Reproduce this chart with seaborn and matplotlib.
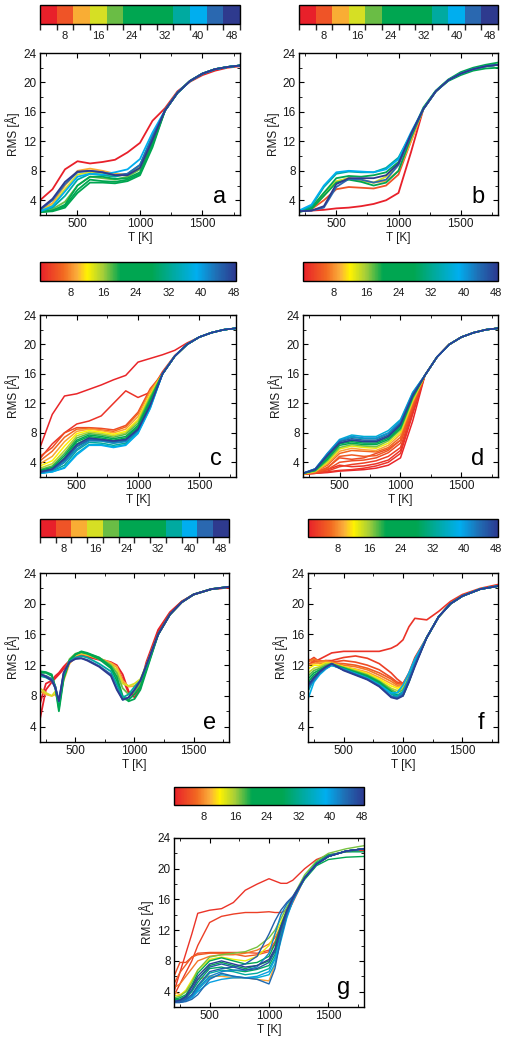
import numpy as np
import pandas as pd
import matplotlib
matplotlib.use("Agg")
import matplotlib.pyplot as plt
import seaborn as sns
from matplotlib.colors import ListedColormap, BoundaryNorm, LinearSegmentedColormap, Normalize
from matplotlib.cm import ScalarMappable
from matplotlib.ticker import MultipleLocator

sns.set_theme(style="ticks")
plt.rcParams['font.family'] = ['Liberation Sans', 'DejaVu Sans']

# ---------------- data ----------------
cbar_ticks = [8, 16, 24, 32, 40, 48]
x_ticks = [500, 1000, 1500]
y_ticks = [4, 8, 12, 16, 20, 24]

# panel a
a_T = [200, 300, 400, 500, 600, 700, 800, 900, 1000, 1100, 1200, 1300, 1400, 1500, 1600, 1700, 1800]
a_tail = [16.2, 18.6, 20.2, 21.2, 21.8, 22.1, 22.3]
a_levels = [4, 10, 14, 20, 24, 28, 30, 34, 38, 44, 48]
a_rms = [
    [4.0, 5.5, 8.2, 9.3, 9.0, 9.2, 9.5, 10.5, 11.8, 14.8, 16.5, 18.8, 20.1, 21.0, 21.6, 22.0, 22.2],
    [2.6, 3.6, 6.0, 8.0, 8.3, 8.0, 7.6, 7.5, 8.6, 12.5],
    [2.6, 3.3, 5.5, 7.5, 7.8, 7.6, 7.3, 7.5, 8.4, 12.0],
    [2.5, 2.8, 3.8, 6.0, 7.2, 7.0, 6.8, 7.2, 8.2, 12.0],
    [2.4, 2.6, 3.2, 5.4, 6.8, 6.6, 6.5, 6.8, 7.6, 11.5],
    [2.4, 2.5, 3.0, 5.0, 6.4, 6.4, 6.3, 6.6, 7.4, 11.2],
    [2.4, 2.6, 3.4, 6.0, 7.2, 7.2, 6.9, 7.0, 7.8, 11.8],
    [2.5, 3.0, 4.6, 6.8, 7.6, 7.4, 7.2, 7.6, 8.8, 12.8],
    [2.5, 3.2, 5.2, 7.2, 7.6, 7.5, 7.8, 8.2, 9.6, 13.2],
    [2.7, 4.0, 6.2, 7.8, 8.0, 7.8, 7.4, 7.6, 8.8, 12.6],
    [2.8, 4.2, 6.5, 7.9, 8.0, 7.8, 7.4, 7.4, 8.4, 12.2],
]

# panel b
b_T = [200, 300, 400, 500, 600, 700, 800, 900, 1000, 1100, 1200, 1300, 1400, 1500, 1600, 1700, 1800]
b_tail = [16.4, 18.8, 20.3, 21.2, 21.8, 22.2, 22.4]
b_levels = [4, 6, 10, 14, 24, 28, 34, 38, 44, 48]
b_rms = [
    [2.5, 2.6, 2.7, 2.9, 3.0, 3.2, 3.5, 4.0, 5.0, 10.5],
    [2.5, 2.8, 4.0, 5.5, 5.8, 5.7, 5.6, 6.0, 7.5, 12.0],
    [2.5, 2.8, 4.6, 6.5, 7.0, 6.8, 6.4, 6.6, 8.0, 12.0],
    [2.5, 3.0, 5.0, 6.6, 7.0, 6.6, 6.4, 7.2, 8.8, 12.5],
    [2.4, 2.8, 4.6, 6.4, 6.8, 6.5, 6.0, 6.4, 8.0, 12.5, 16.4, 18.8, 20.2, 21.0, 21.6, 21.9, 22.0],
    [2.5, 3.0, 5.0, 7.0, 7.3, 7.2, 7.4, 7.8, 9.2, 12.8, 16.6, 18.9, 20.4, 21.4, 22.0, 22.4, 22.7],
    [2.5, 3.2, 5.8, 7.6, 7.9, 7.8, 7.8, 8.4, 9.8, 13.0],
    [2.6, 3.4, 6.0, 7.8, 8.0, 7.9, 7.8, 8.2, 9.6, 13.2],
    [2.5, 2.6, 3.0, 5.8, 6.9, 6.8, 6.4, 6.8, 8.8, 12.8],
    [2.5, 2.6, 3.2, 6.2, 7.0, 7.0, 7.0, 7.4, 9.0, 13.0],
]

# panel c
c_T = [200, 300, 400, 500, 600, 700, 800, 900, 1000, 1100, 1200, 1300, 1400, 1500, 1600, 1700, 1800]
c_tail = [16.0, 18.4, 20.0, 21.0, 21.6, 22.0, 22.2]
c_levels = [1, 2, 4, 6, 9, 12, 15, 18, 21, 24, 27, 30, 33, 36, 39, 42, 45, 48]
c_rms = [
    [6.0, 10.5, 13.0, 13.3, 13.9, 14.5, 15.2, 15.8, 17.6, 18.1, 18.6, 19.2, 20.2, 21.0, 21.6, 22.0, 22.2],
    [4.5, 6.5, 8.0, 9.2, 9.6, 10.3, 12.0, 13.7, 12.8, 13.5, 16.3, 18.5, 20.0, 21.0, 21.6, 22.0, 22.2],
    [4.8, 6.0, 8.0, 8.7, 8.7, 8.6, 8.4, 9.0, 10.8, 14.0],
    [4.2, 5.5, 7.4, 8.5, 8.6, 8.4, 8.2, 8.8, 10.6, 13.8],
    [3.8, 4.8, 6.8, 8.2, 8.5, 8.3, 8.0, 8.5, 10.2, 13.6],
    [3.5, 4.2, 6.2, 7.9, 8.3, 8.1, 7.8, 8.2, 9.8, 13.2],
    [3.2, 3.8, 5.6, 7.6, 8.1, 7.9, 7.6, 8.0, 9.6, 13.0],
    [3.0, 3.5, 5.2, 7.3, 7.9, 7.7, 7.4, 7.8, 9.3, 12.8],
    [2.9, 3.3, 4.9, 7.0, 7.7, 7.5, 7.2, 7.5, 9.0, 12.5],
    [2.8, 3.1, 4.6, 6.8, 7.5, 7.3, 7.0, 7.3, 8.8, 12.2],
    [2.7, 3.0, 4.3, 6.5, 7.3, 7.1, 6.8, 7.1, 8.6, 12.0],
    [2.6, 2.9, 4.0, 6.1, 7.0, 6.9, 6.6, 6.9, 8.4, 11.8],
    [2.5, 2.8, 3.6, 5.6, 6.7, 6.6, 6.3, 6.6, 8.2, 11.6],
    [2.5, 2.7, 3.3, 5.2, 6.4, 6.4, 6.1, 6.4, 8.0, 11.4],
    [2.5, 2.7, 3.2, 5.0, 6.3, 6.3, 6.0, 6.3, 7.9, 11.3],
    [2.6, 2.9, 4.0, 5.8, 6.9, 6.9, 6.6, 6.8, 8.3, 11.6],
    [2.6, 3.0, 4.3, 6.2, 7.1, 7.0, 6.8, 7.0, 8.4, 11.7],
    [2.7, 3.1, 4.5, 6.4, 7.3, 7.1, 6.9, 7.1, 8.5, 11.8],
]

# panel d
d_T = [200, 300, 400, 500, 600, 700, 800, 900, 1000, 1100, 1200, 1300, 1400, 1500, 1600, 1700, 1800]
d_tail = [15.8, 18.3, 20.0, 21.0, 21.6, 22.0, 22.2]
d_levels = [1, 2, 2, 3, 4, 4, 5, 6, 9, 13, 17, 21, 25, 29, 33, 37, 41, 45, 48]
d_rms = [
    [2.4, 2.5, 2.6, 2.8, 2.9, 3.0, 3.2, 3.6, 4.6, 9.6],
    [2.4, 2.5, 2.7, 2.9, 3.0, 3.2, 3.5, 4.0, 5.2, 10.5],
    [2.4, 2.6, 3.0, 3.6, 3.4, 3.5, 3.8, 4.3, 5.6, 10.8],
    [2.4, 2.5, 2.8, 3.4, 3.7, 3.9, 4.2, 4.8, 6.0, 11.2],
    [2.4, 2.6, 3.0, 4.0, 4.2, 4.3, 4.6, 5.3, 6.6, 11.5],
    [2.4, 2.6, 3.3, 4.6, 4.4, 4.6, 5.2, 5.8, 7.0, 11.8],
    [2.4, 2.6, 3.2, 4.8, 5.0, 4.8, 4.9, 5.6, 7.0, 11.8],
    [2.4, 2.7, 3.6, 5.2, 5.6, 5.5, 5.4, 6.0, 7.4, 12.0],
    [2.4, 2.7, 3.8, 5.5, 5.9, 5.7, 5.6, 6.3, 7.8, 12.2],
    [2.4, 2.8, 4.0, 5.8, 6.2, 6.0, 5.9, 6.6, 8.1, 12.4],
    [2.5, 2.8, 4.2, 6.0, 6.4, 6.2, 6.1, 6.9, 8.4, 12.6],
    [2.5, 2.9, 4.4, 6.3, 6.6, 6.4, 6.4, 7.1, 8.6, 12.8],
    [2.5, 2.9, 4.6, 6.5, 6.8, 6.6, 6.6, 7.3, 8.8, 13.0],
    [2.5, 3.0, 4.8, 6.6, 7.0, 6.8, 6.8, 7.5, 9.0, 13.1],
    [2.5, 3.0, 5.0, 6.9, 7.4, 7.2, 7.2, 7.9, 9.4, 13.3],
    [2.5, 3.1, 5.2, 7.1, 7.7, 7.5, 7.5, 8.3, 9.8, 13.5],
    [2.5, 3.1, 5.2, 7.0, 7.5, 7.3, 7.3, 8.0, 9.6, 13.4],
    [2.5, 3.1, 5.0, 6.8, 7.2, 7.0, 7.0, 7.7, 9.3, 13.2],
    [2.5, 3.0, 4.9, 6.6, 7.0, 6.8, 6.8, 7.5, 9.1, 13.0],
]

# panel e
e_T = [200, 250, 300, 330, 360, 400, 450, 500, 550, 600, 700, 800, 850, 900, 950, 1000,
       1050, 1100, 1200, 1300, 1400, 1500, 1650, 1800]
e_tail = [16.0, 18.6, 20.2, 21.2, 21.9, 22.2]
e_levels = [3, 5, 10, 14, 20, 26, 30, 36, 44, 48]
e_rms = [
    [5.0, 8.8, 9.8, 10.3, 10.8, 11.5, 12.3, 13.0, 13.2, 13.1, 12.8, 12.4, 12.0, 10.8, 8.6, 7.8,
     9.0, 12.0, 16.4, 18.8, 20.3, 21.2, 21.9, 22.1],
    [7.0, 9.6, 10.0, 10.6, 11.0, 11.8, 12.6, 13.1, 13.3, 13.1, 12.7, 12.2, 11.8, 10.2, 8.4, 8.2,
     9.4, 12.4, 16.6, 18.9, 20.3, 21.2, 21.9, 22.1],
    [8.6, 8.2, 8.0, 8.2, 7.4, 10.0, 12.2, 13.2, 13.5, 13.3, 12.9, 12.3, 11.8, 10.0, 9.2, 9.3, 10.0, 12.0],
    [9.0, 8.4, 8.0, 8.6, 7.2, 10.5, 12.5, 13.4, 13.6, 13.4, 12.8, 12.1, 11.4, 9.6, 9.3, 9.6, 10.2, 12.0],
    [10.8, 10.6, 10.2, 9.2, 6.8, 10.6, 12.8, 13.5, 13.7, 13.5, 13.0, 12.0, 11.0, 9.0, 8.2, 8.5, 9.6, 11.6],
    [11.2, 11.1, 10.8, 9.0, 6.0, 10.2, 12.6, 13.4, 13.8, 13.6, 13.0, 11.8, 10.5, 8.0, 7.3, 7.6, 8.8, 11.2],
    [11.0, 11.0, 10.6, 9.2, 6.4, 10.4, 12.6, 13.4, 13.7, 13.5, 12.8, 11.6, 10.0, 7.6, 7.5, 8.2, 9.2, 11.4],
    [10.6, 10.4, 10.0, 9.0, 7.2, 10.8, 12.5, 13.0, 13.2, 13.0, 12.2, 11.2, 9.5, 7.8, 8.2, 9.2, 10.0, 11.8],
    [10.8, 10.6, 10.2, 9.2, 7.4, 11.0, 12.4, 12.9, 12.9, 12.7, 11.9, 10.8, 9.0, 7.5, 7.8, 8.8, 10.0, 12.0],
    [10.9, 10.5, 10.0, 9.0, 7.3, 11.0, 12.4, 12.8, 12.9, 12.6, 11.8, 10.6, 8.8, 7.5, 7.8, 8.8, 10.0, 12.0],
]

# panel f
f_T = [200, 250, 300, 350, 400, 500, 600, 700, 800, 900, 950, 1000, 1050, 1100,
       1200, 1300, 1400, 1500, 1650, 1800]
f_tail = [15.6, 18.3, 20.0, 21.0, 21.9, 22.3]
f_levels = [2, 3, 4, 5, 7, 9, 12, 15, 18, 22, 26, 30, 34, 38, 42, 45, 48]
f_rms = [
    [12.0, 12.4, 12.8, 13.2, 13.6, 13.8, 13.8, 13.8, 13.8, 14.2, 14.6, 15.3, 17.0, 18.1,
     17.9, 19.0, 20.3, 21.2, 22.0, 22.5],
    [12.5, 13.0, 12.4, 12.6, 12.6, 13.0, 13.2, 12.9, 12.2, 11.0, 10.2, 9.6, 11.0, 13.0],
    [12.0, 12.6, 12.2, 12.4, 12.4, 12.6, 12.4, 12.0, 11.4, 10.4, 9.8, 9.6, 10.8, 12.8],
    [12.8, 12.4, 12.6, 12.5, 12.3, 12.2, 12.0, 11.6, 11.0, 10.2, 9.6, 9.5, 10.6, 12.6],
    [12.4, 12.8, 12.5, 12.6, 12.4, 12.0, 11.8, 11.4, 10.7, 9.9, 9.4, 9.4, 10.5, 12.5],
    [12.0, 12.2, 12.3, 12.4, 12.3, 11.8, 11.5, 11.1, 10.4, 9.6, 9.2, 9.3, 10.4, 12.4],
    [11.5, 12.0, 12.0, 12.3, 12.2, 11.8, 11.4, 10.9, 10.2, 9.3, 9.0, 9.2, 10.3, 12.4],
    [11.0, 11.6, 11.8, 12.2, 12.2, 11.7, 11.3, 10.8, 10.0, 9.0, 8.7, 9.0, 10.2, 12.3],
    [10.6, 11.3, 11.6, 12.0, 12.2, 11.7, 11.2, 10.7, 9.9, 8.8, 8.4, 8.8, 10.1, 12.2],
    [10.2, 11.0, 11.4, 11.8, 12.1, 11.6, 11.1, 10.6, 9.8, 8.6, 8.1, 8.4, 10.0, 12.2],
    [9.8, 10.7, 11.2, 11.7, 12.0, 11.6, 11.0, 10.5, 9.7, 8.4, 7.9, 8.2, 9.9, 12.0],
    [9.4, 10.4, 11.1, 11.6, 12.0, 11.5, 11.0, 10.4, 9.6, 8.3, 7.8, 8.0, 9.8, 12.0],
    [8.6, 10.2, 11.0, 11.6, 12.0, 11.5, 10.9, 10.3, 9.5, 8.3, 8.0, 8.6, 10.4, 12.4],
    [7.6, 9.8, 10.8, 11.5, 12.0, 11.4, 10.9, 10.3, 9.4, 8.4, 8.4, 9.4, 11.0, 12.8],
    [9.0, 10.0, 11.0, 11.6, 12.1, 11.4, 10.8, 10.2, 9.3, 8.0, 7.8, 8.4, 10.2, 12.2],
    [9.2, 10.2, 11.1, 11.7, 12.2, 11.4, 10.8, 10.2, 9.3, 7.9, 7.7, 8.1, 10.0, 12.0],
    [9.4, 10.4, 11.2, 11.8, 12.2, 11.3, 10.7, 10.1, 9.2, 7.8, 7.6, 8.0, 9.8, 11.8],
]

# panel g
g_T = [200, 250, 300, 350, 400, 500, 600, 700, 800, 900, 1000, 1050, 1100, 1150, 1200,
       1300, 1400, 1500, 1650, 1800]
g_tail = [18.8, 20.6, 21.6, 22.3, 22.6]
g_levels = [2, 3, 4, 5, 7, 9, 13, 17, 21, 25, 29, 33, 37, 40, 42, 44, 45, 46, 48]
g_rms = [
    [4.0, 6.5, 9.0, 11.5, 14.2, 14.6, 14.8, 15.6, 17.2, 18.0, 18.7, 18.4, 18.1, 18.1, 18.5,
     20.0, 21.2, 21.8, 22.2, 22.4],
    [3.5, 5.0, 6.5, 8.0, 10.0, 13.0, 13.8, 14.1, 14.3, 14.3, 14.4, 14.3, 14.3, 14.6, 16.0,
     18.8, 20.6, 21.6, 22.3, 22.6],
    [6.0, 7.8, 7.8, 8.5, 9.0, 9.1, 9.1, 9.1, 9.1, 9.0, 9.4, 10.5, 12.5, 14.0, 15.6],
    [5.0, 6.5, 7.5, 8.5, 8.8, 9.0, 9.0, 8.9, 8.6, 8.8, 9.2, 10.2, 12.0, 14.0, 15.8],
    [4.5, 5.0, 6.0, 7.0, 8.0, 8.6, 8.8, 8.8, 9.0, 9.4, 10.2, 11.0, 12.5, 14.2, 15.8],
    [4.0, 3.6, 4.0, 4.8, 5.6, 6.0, 6.0, 5.8, 5.8, 5.6, 5.4, 7.5, 11.0, 14.0, 16.0],
    [3.5, 3.5, 4.2, 5.5, 6.8, 8.2, 8.5, 8.2, 8.0, 8.6, 10.0, 11.5, 13.0, 14.6, 16.0],
    [3.2, 3.4, 4.0, 5.2, 6.8, 8.5, 8.8, 9.0, 9.2, 9.8, 11.0, 12.0, 13.5, 15.0, 16.3,
     19.2, 21.0, 22.0, 22.6, 23.0],
    [3.0, 3.2, 3.6, 4.8, 6.4, 8.0, 8.4, 8.0, 7.6, 7.8, 8.6, 10.2, 12.6, 14.6, 16.2,
     18.6, 20.4, 21.2, 21.5, 21.6],
    [3.0, 3.0, 3.4, 4.2, 5.6, 7.4, 7.8, 7.4, 7.0, 7.4, 8.0, 9.4, 12.0, 14.4, 16.0],
    [2.8, 2.9, 3.2, 4.0, 5.2, 7.0, 7.2, 6.8, 6.6, 6.9, 7.4, 8.8, 11.6, 14.2, 16.0,
     18.9, 20.8, 21.8, 22.2, 22.2],
    [2.8, 2.8, 3.0, 3.6, 4.6, 6.4, 6.8, 6.6, 6.2, 6.4, 7.0, 8.4, 11.2, 14.0, 15.8],
    [2.7, 2.7, 2.9, 3.3, 4.2, 5.8, 6.2, 6.0, 5.8, 5.8, 6.2, 7.6, 10.6, 13.6, 15.8],
    [2.6, 2.6, 2.8, 3.2, 4.0, 5.2, 5.6, 5.8, 5.8, 6.0, 6.6, 8.2, 11.0, 13.8, 15.8],
    [2.6, 2.6, 2.8, 3.4, 4.4, 6.0, 6.6, 6.8, 6.8, 7.2, 9.0, 11.5, 14.0, 15.4, 16.3],
    [2.6, 2.6, 2.7, 3.0, 3.6, 5.6, 6.4, 6.0, 5.8, 5.6, 5.0, 7.0, 11.0, 14.0, 16.0],
    [2.6, 2.6, 3.0, 3.6, 4.8, 6.6, 7.0, 7.2, 7.6, 8.6, 11.5, 13.2, 14.6, 15.6, 16.4],
    [2.7, 2.8, 3.2, 4.2, 5.6, 7.2, 7.6, 7.2, 6.8, 7.0, 7.8, 9.2, 12.0, 14.4, 16.0],
    [2.7, 2.9, 3.4, 4.6, 6.0, 7.6, 8.0, 7.6, 7.2, 7.4, 8.2, 9.6, 12.4, 14.6, 16.2],
]

# ---------------- colour maps ----------------
disc_colors = ['#e8202a', '#ef5427', '#f9ad34', '#d6df24', '#6abd45', '#00a651',
               '#00a651', '#00a651', '#00aaa0', '#00aeef', '#2a68b0', '#2e3a8e']
disc_cmap = ListedColormap(disc_colors)
disc_norm = BoundaryNorm(np.arange(2, 51, 4), disc_cmap.N)

cont_cmap = LinearSegmentedColormap.from_list('rms', [
    (0.0, '#e8202a'), (0.12, '#f26a21'), (0.19, '#fbb03b'), (0.24, '#fff200'),
    (0.32, '#a6ce39'), (0.41, '#00a651'), (0.57, '#00a651'), (0.68, '#00aaa0'),
    (0.80, '#00aeef'), (0.90, '#1f6fb5'), (1.0, '#2b3990')])
cont_norm = Normalize(0.5, 48.5)

# ---------------- layout ----------------
W, H = 510, 1042
def rect(x0, y0, x1, y1):
    return [x0 / W, 1 - y1 / H, (x1 - x0) / W, (y1 - y0) / H]

panels = [
    ('a', a_T, a_levels, a_rms, a_tail, (40, 53, 240, 215), (40, 5, 240, 24), 'disc', 1.3),
    ('b', b_T, b_levels, b_rms, b_tail, (299, 53, 498, 215), (299, 5, 498, 24), 'disc', 1.3),
    ('c', c_T, c_levels, c_rms, c_tail, (40, 315, 236, 477), (40, 262, 236, 281), 'cont', 1.1),
    ('d', d_T, d_levels, d_rms, d_tail, (303, 315, 498, 477), (303, 262, 498, 281), 'cont', 1.1),
    ('e', e_T, e_levels, e_rms, e_tail, (40, 573, 229, 742), (40, 519, 229, 537), 'disc', 1.3),
    ('f', f_T, f_levels, f_rms, f_tail, (308, 573, 498, 742), (308, 519, 498, 537), 'cont', 1.2),
    ('g', g_T, g_levels, g_rms, g_tail, (174, 838, 364, 1007), (174, 787, 364, 805), 'cont', 1.0),
]

def build(T, levels, rows, tail):
    recs = []
    for i, (lev, row) in enumerate(zip(levels, rows)):
        vals = list(row) if len(row) == len(T) else list(row) + list(tail)
        assert len(vals) == len(T), (lev, len(vals), len(T))
        for t, v in zip(T, vals):
            recs.append((t, v, lev, i))
    return pd.DataFrame(recs, columns=['T', 'RMS', 'level', 'unit'])

fig = plt.figure(figsize=(W / 100, H / 100), dpi=100)

FS = 8.5
CFS = 8.0
TXT = '#1a1a1a'
for letter, T, levels, rows, tail, axr, cbr, kind, lw in panels:
    cmap, norm = (disc_cmap, disc_norm) if kind == 'disc' else (cont_cmap, cont_norm)
    df = build(T, levels, rows, tail)
    pal = {lev: cmap(norm(lev)) for lev in sorted(set(levels))}
    ax = fig.add_axes(rect(*axr))
    sns.lineplot(data=df, x='T', y='RMS', hue='level', units='unit', estimator=None,
                 palette=pal, legend=False, linewidth=lw, ax=ax, sort=False)
    ax.set_xlim(200, 1800)
    ax.set_ylim(2, 24)
    ax.set_xticks(x_ticks)
    ax.set_yticks(y_ticks)
    ax.xaxis.set_minor_locator(MultipleLocator(250))
    ax.yaxis.set_minor_locator(MultipleLocator(2))
    ax.tick_params(which='both', direction='in', top=True, right=True,
                   labelsize=FS, pad=2.5, color='black', labelcolor=TXT)
    ax.tick_params(which='major', length=3.5, width=0.8)
    ax.tick_params(which='minor', length=2, width=0.6)
    for s in ax.spines.values():
        s.set_linewidth(1.0)
        s.set_color('black')
    ax.set_xlabel('T [K]', fontsize=FS, labelpad=1, color=TXT)
    ax.set_ylabel('RMS [Å]', fontsize=FS, labelpad=2, color=TXT)
    ax.text(0.93, 0.075, letter, transform=ax.transAxes, ha='right', va='baseline',
            fontsize=17, color='black')

    cax = fig.add_axes(rect(*cbr))
    cb = fig.colorbar(ScalarMappable(norm=norm, cmap=cmap), cax=cax,
                      orientation='horizontal', ticks=cbar_ticks)
    cb.outline.set_linewidth(1.0)
    cb.outline.set_edgecolor('black')
    cax.tick_params(length=0, labelsize=CFS, pad=5, labelcolor=TXT)

fig.savefig('out.png', dpi=100)
